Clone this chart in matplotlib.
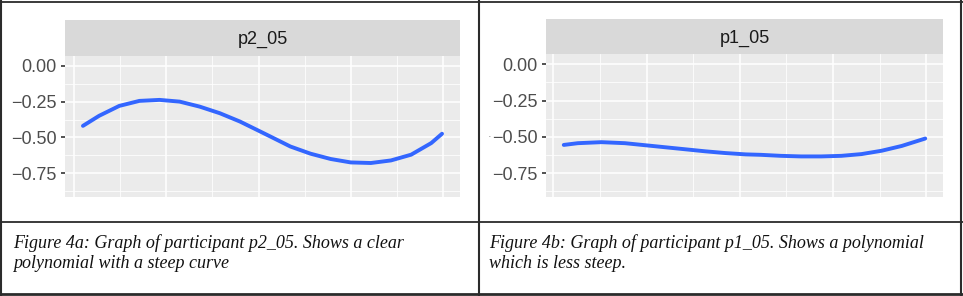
"""Two ggplot-style facet panels with captions, laid out as a bordered table."""

import matplotlib
import numpy as np

matplotlib.use("Agg")
import matplotlib.pyplot as plt  # noqa: E402
from matplotlib.lines import Line2D  # noqa: E402

# --- data ---
left_label = "p2_05"
left_x = [0.098, 0.273, 0.491, 0.709, 0.927, 1.145, 1.363, 1.581, 1.799, 2.017,
          2.127, 2.345, 2.563, 2.781, 2.999, 3.217, 3.435, 3.653, 3.871, 3.988]
left_y = [-0.419, -0.349, -0.280, -0.245, -0.238, -0.250, -0.285, -0.331, -0.389, -0.458,
          -0.493, -0.563, -0.613, -0.650, -0.674, -0.678, -0.660, -0.620, -0.539, -0.474]

right_label = "p1_05"
right_x = [0.111, 0.262, 0.515, 0.767, 0.983, 1.199, 1.415, 1.631, 1.847, 2.063,
           2.225, 2.441, 2.657, 2.873, 3.089, 3.305, 3.521, 3.737, 3.989]
right_y = [-0.555, -0.543, -0.536, -0.543, -0.557, -0.571, -0.585, -0.599, -0.611, -0.620,
           -0.623, -0.630, -0.634, -0.634, -0.630, -0.618, -0.595, -0.562, -0.511]

y_ticks = [0.00, -0.25, -0.50, -0.75]
y_tick_labels = ["0.00", "\u22120.25", "\u22120.50", "\u22120.75"]
x_major = [0, 1, 2, 3, 4]
x_minor = [0.5, 1.5, 2.5, 3.5]
y_minor = [-0.125, -0.375, -0.625, -0.875]

captions = [
    ["Figure 4a: Graph of participant p2_05. Shows a clear",
     "polynomial with a steep curve"],
    ["Figure 4b: Graph of participant p1_05. Shows a polynomial",
     "which is less steep."],
]

W, H = 963, 296
fig = plt.figure(figsize=(W / 100, H / 100), dpi=100, facecolor="white")


def px_box(x0, y0, x1, y1):
    """Pixel box (top-left origin) -> figure fraction [l, b, w, h]."""
    return [x0 / W, 1 - y1 / H, (x1 - x0) / W, (y1 - y0) / H]


def facet(panel_px, strip_px, xs, ys, label):
    ax = fig.add_axes(px_box(*panel_px))
    ax.set_facecolor("#EBEBEB")
    for s in ax.spines.values():
        s.set_visible(False)
    ax.plot(xs, ys, color="#3366FF", lw=2.8, solid_capstyle="round",
            solid_joinstyle="round", zorder=3)
    w = max(xs) - min(xs)
    ax.set_xlim(min(xs) - 0.05 * w, max(xs) + 0.05 * w)
    ax.set_ylim(-0.915, 0.068)
    ax.set_xticks(x_major)
    ax.set_xticks(x_minor, minor=True)
    ax.set_yticks(y_ticks)
    ax.set_yticklabels(y_tick_labels)
    ax.set_yticks(y_minor, minor=True)
    ax.grid(which="major", color="white", lw=1.1)
    ax.grid(which="minor", color="white", lw=0.55)
    ax.set_axisbelow(True)
    ax.tick_params(axis="x", which="both", length=0, labelbottom=False)
    ax.tick_params(axis="y", which="minor", length=0)
    ax.tick_params(axis="y", which="major", length=2.8, width=1.2, color="#333333",
                   labelsize=13, labelcolor="#4D4D4D", pad=3)
    for t in ax.get_yticklabels():
        t.set_fontfamily("Liberation Sans")

    sx = fig.add_axes(px_box(*strip_px))
    sx.set_facecolor("#D9D9D9")
    sx.set_xticks([])
    sx.set_yticks([])
    for s in sx.spines.values():
        s.set_visible(False)
    sx.text(0.5, 0.45, label, ha="center", va="center", fontsize=13,
            color="#1A1A1A", family="Liberation Sans", transform=sx.transAxes)
    return ax


facet((65, 56, 460, 197), (65, 20, 460, 56), left_x, left_y, left_label)
facet((545.7, 54.3, 943.3, 197.3), (545.7, 19, 943.3, 54.3), right_x, right_y, right_label)

# stray dot beside the right panel's -0.50 label
fig.text(489.3 / W, 1 - 137.3 / H, "\u00b7", ha="center", va="center",
         fontsize=8, color="#888888")

# captions
for xpx, lines in zip([12.7, 489.3], captions):
    for ypx, txt in zip([243, 264], lines):
        fig.text(xpx / W, 1 - ypx / H, txt, ha="left", va="center", fontsize=13,
                 family="Liberation Serif", style="italic", color="#111111")

# table borders
def hline(y, x0, x1, lw):
    fig.add_artist(Line2D([x0 / W, x1 / W], [1 - y / H, 1 - y / H],
                          color="#2B2B2B", lw=lw, transform=fig.transFigure))


def vline(x, y0, y1, lw):
    fig.add_artist(Line2D([x / W, x / W], [1 - y0 / H, 1 - y1 / H],
                          color="#2B2B2B", lw=lw, transform=fig.transFigure))


hline(2, 0, 963, 1.3)
hline(222, 0, 963, 1.3)
hline(293.5, 0, 963, 2.0)
vline(1, 1, 295, 1.5)
vline(478.5, 1, 295, 1.5)
vline(961, 1, 295, 1.5)

fig.savefig("out.png", dpi=100, facecolor="white")
